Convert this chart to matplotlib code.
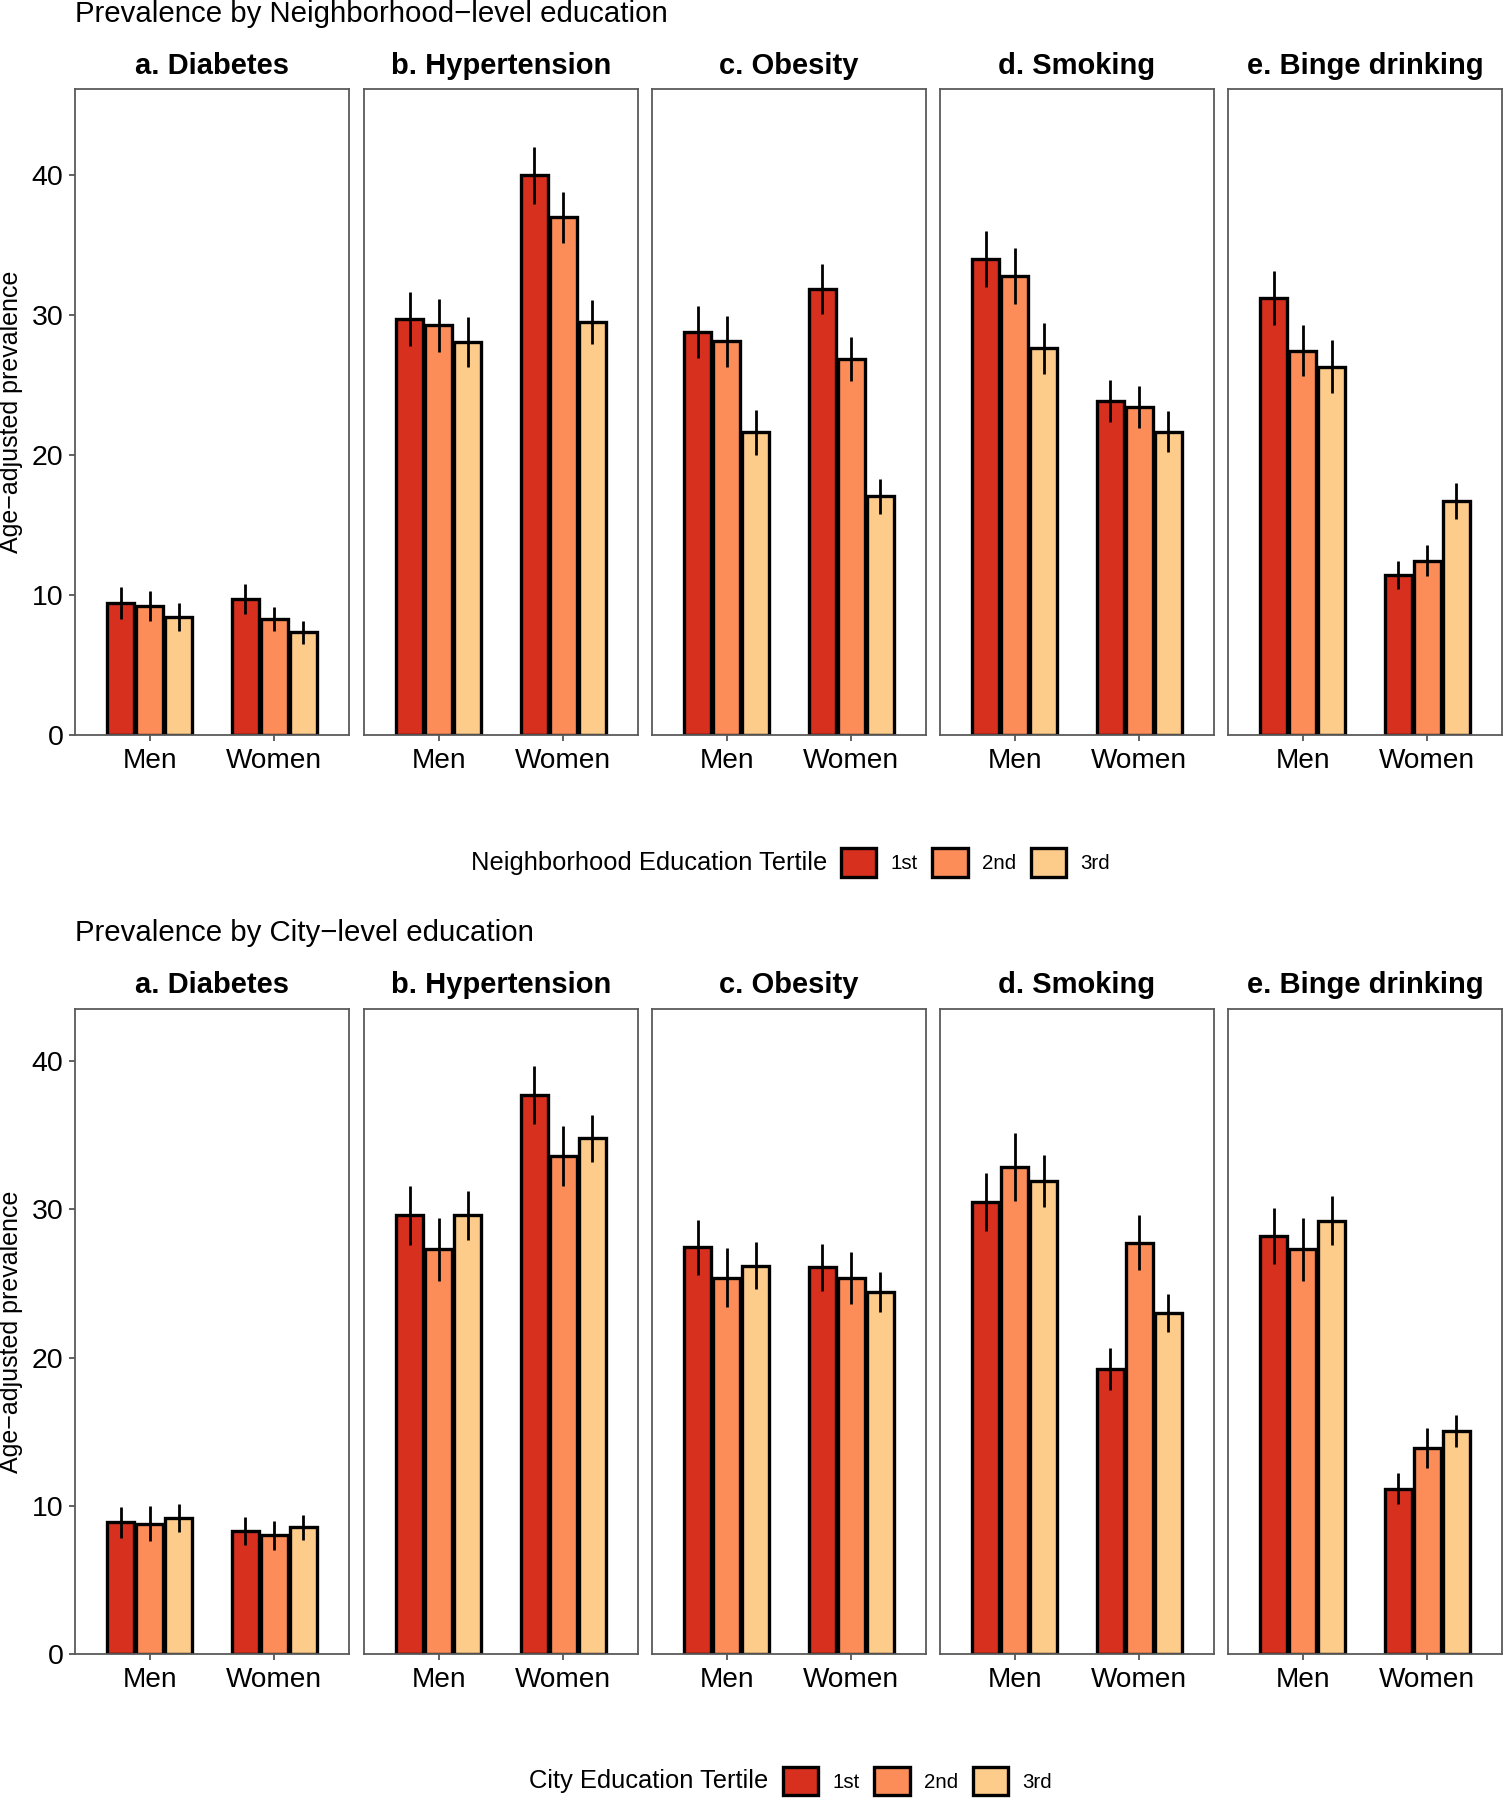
import numpy as np
import matplotlib
matplotlib.use("Agg")
import matplotlib.pyplot as plt
from matplotlib.patches import Patch

plt.rcParams['font.family'] = ['Liberation Sans', 'DejaVu Sans']

# Datos (prevalencia ajustada por edad)
panels = ['a. Diabetes', 'b. Hypertension', 'c. Obesity', 'd. Smoking', 'e. Binge drinking']
sexes = ['Men', 'Women']
tertiles = ['1st', '2nd', '3rd']
colors = ['#D7301F', '#FC8D59', '#FDCC8A']

# Educacion a nivel de vecindario
nbhd_men = [[9.4, 9.2, 8.4], [29.7, 29.25, 28.05], [28.75, 28.1, 21.6],
            [34.0, 32.75, 27.6], [31.2, 27.45, 26.3]]
nbhd_women = [[9.7, 8.3, 7.35], [39.95, 36.95, 29.5], [31.85, 26.85, 17.05],
              [23.85, 23.4, 21.65], [11.4, 12.45, 16.7]]
nbhd_men_err = [[1.15, 1.07, 1.0], [1.95, 1.9, 1.8], [1.85, 1.8, 1.6],
                [2.0, 2.0, 1.85], [1.9, 1.85, 1.9]]
nbhd_women_err = [[1.05, 0.87, 0.82], [2.05, 1.8, 1.57], [1.8, 1.55, 1.25],
                  [1.5, 1.5, 1.45], [1.0, 1.1, 1.3]]

# Educacion a nivel de ciudad
city_men = [[8.9, 8.8, 9.2], [29.6, 27.3, 29.6], [27.45, 25.4, 26.2],
            [30.5, 32.85, 31.95], [28.2, 27.3, 29.25]]
city_women = [[8.3, 8.0, 8.55], [37.75, 33.6, 34.8], [26.1, 25.4, 24.4],
              [19.25, 27.75, 23.0], [11.15, 13.9, 15.05]]
city_men_err = [[1.05, 1.2, 0.95], [2.0, 2.1, 1.65], [1.87, 2.0, 1.6],
                [1.95, 2.3, 1.75], [1.9, 2.1, 1.65]]
city_women_err = [[0.95, 1.0, 0.83], [1.95, 2.0, 1.6], [1.6, 1.75, 1.35],
                  [1.4, 1.85, 1.3], [1.05, 1.35, 1.05]]

W, H = 1505, 1800
fig = plt.figure(figsize=(W / 100, H / 100), dpi=100)

panel_left = [75, 364, 652, 940, 1228]
panel_w = 274
dodge = 0.7 / 3
bar_w = 0.65 / 3


def draw_row(top, bottom, ymax, men, women, men_err, women_err, title, leg_title,
             leg_title_x, leg_box_x, leg_y):
    fig.text(75 / W, 1 - (top - 67.6) / H, title, fontsize=21.2,
             ha='left', va='baseline')
    fig.text(11.5 / W, 1 - (top + bottom) / 2 / H, 'Age\u2212adjusted prevalence',
             fontsize=18, rotation=90, ha='center', va='center')
    for p in range(5):
        ax = fig.add_axes([panel_left[p] / W, 1 - bottom / H,
                           panel_w / W, (bottom - top) / H])
        for t in range(3):
            vals = [men[p][t], women[p][t]]
            errs = [men_err[p][t], women_err[p][t]]
            xs = np.arange(1, 3) + (t - 1) * dodge
            ax.bar(xs, vals, width=bar_w, color=colors[t], edgecolor='black',
                   linewidth=2.4, zorder=2)
            ax.errorbar(xs, vals, yerr=errs, fmt='none', ecolor='black',
                        elinewidth=2.0, capsize=0, zorder=3)
        ax.set_xlim(0.4, 2.6)
        ax.set_ylim(0, ymax)
        ax.set_xticks([1, 2])
        ax.set_xticklabels(sexes, fontsize=20.2)
        ax.tick_params(axis='x', length=4.3, width=1.3, color='#555555', pad=5)
        if p == 0:
            ax.set_yticks([0, 10, 20, 30, 40])
            ax.tick_params(axis='y', length=4.3, width=1.3, color='#555555',
                           labelsize=20.5, pad=4)
        else:
            ax.set_yticks([])
        for s in ax.spines.values():
            s.set_color('#5a5a5a')
            s.set_linewidth(1.3)
        ax.annotate(panels[p], xy=(0.5, 1), xycoords='axes fraction',
                    xytext=(0, 11.1), textcoords='offset points',
                    ha='center', va='baseline', fontsize=21, fontweight='bold')

    # leyenda
    fig.text(leg_title_x / W, 1 - leg_y / H, leg_title, fontsize=18.4,
             ha='left', va='center')
    handles = [Patch(facecolor=c, edgecolor='black', linewidth=2.4) for c in colors]
    fig.legend(handles, tertiles, loc='center left',
               bbox_to_anchor=(leg_box_x / W, 1 - leg_y / H), ncol=3,
               frameon=False, fontsize=14.8, handlelength=1.72, handleheight=1.72,
               handletextpad=0.7, columnspacing=0.7, borderpad=0, borderaxespad=0)


draw_row(89.3, 735, 46.1, nbhd_men, nbhd_women, nbhd_men_err, nbhd_women_err,
         'Prevalence by Neighborhood\u2212level education',
         'Neighborhood Education Tertile', 471, 841, 862.5)
draw_row(1008.7, 1654, 43.55, city_men, city_women, city_men_err, city_women_err,
         'Prevalence by City\u2212level education',
         'City Education Tertile', 529, 783, 1781)

plt.savefig('out.png', dpi=100)
